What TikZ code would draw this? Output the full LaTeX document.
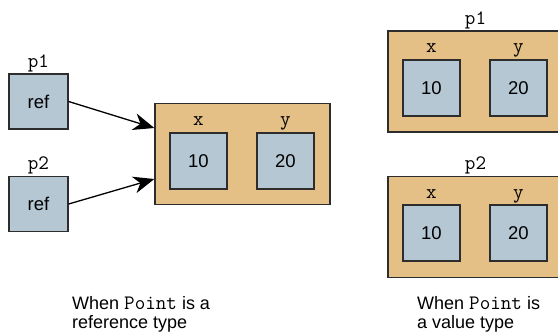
\documentclass[tikz,border=0pt]{standalone}
\usepackage{fontspec}
\setmainfont{Liberation Sans}
\setmonofont{Latin Modern Mono}
\usetikzlibrary{arrows.meta}
\definecolor{tan}{RGB}{229,192,134}
\definecolor{bluegray}{RGB}{181,199,211}
\definecolor{edge}{RGB}{45,45,45}
\newcommand{\monotext}[1]{{\fontsize{20.5}{21}\selectfont\ttfamily #1}}
\tikzset{
  outerbox/.style={draw=edge, line width=1.3pt, fill=tan, minimum width=175pt, minimum height=101pt, inner sep=0pt},
  valbox/.style={draw=edge, line width=1.3pt, fill=bluegray, minimum width=57pt, minimum height=56pt, inner sep=0pt, font=\fontsize{18.5}{21}\selectfont},
  refbox/.style={draw=edge, line width=1.3pt, fill=bluegray, minimum width=59pt, minimum height=55pt, inner sep=0pt, font=\fontsize{18.5}{21}\selectfont},
  lbl/.style={anchor=base, inner sep=0pt, font=\ttfamily\fontsize{20.5}{22}\selectfont},
  caption/.style={anchor=base west, inner sep=0pt, font=\fontsize{18}{21}\selectfont},
  ptr/.style={draw=black, line width=1.3pt, -{Stealth[length=21pt,width=17pt,inset=6.5pt]}},
}
\begin{document}
\begin{tikzpicture}[x=1pt,y=-1pt]
\useasboundingbox (0,0) rectangle (558,333);
% left: reference type
\node[refbox] (ref1) at (38.5,101.5) {ref};
\node[refbox] (ref2) at (38.5,204) {ref};
\node[lbl] (lp1) at (38.5,67) {p1};
\node[lbl] (lp2) at (38.5,169) {p2};
\node[outerbox] (objL) at (242.5,154) {};
\node[valbox] (lx) at (198.5,161) {10};
\node[valbox] (ly) at (285.5,161) {20};
\node[lbl] (lxl) at (198.5,125) {x};
\node[lbl] (lyl) at (285.5,125) {y};
\draw[ptr] (ref1.east) -- ([yshift=26pt]objL.west);
\draw[ptr] (ref2.east) -- ([yshift=-25pt]objL.west);
% right: value type
\node[outerbox] (objR1) at (475.5,81.5) {};
\node[lbl] (rp1) at (475.5,24) {p1};
\node[valbox] (r1x) at (431.5,88) {10};
\node[valbox] (r1y) at (518.5,88) {20};
\node[lbl] (r1xl) at (431.5,52) {x};
\node[lbl] (r1yl) at (518.5,52) {y};
\node[outerbox] (objR2) at (475.5,227) {};
\node[lbl] (rp2) at (475.5,169) {p2};
\node[valbox] (r2x) at (431.5,233) {10};
\node[valbox] (r2y) at (518.5,233) {20};
\node[lbl] (r2xl) at (431.5,198) {x};
\node[lbl] (r2yl) at (518.5,198) {y};
% captions
\node[caption] (c1a) at (72,309) {When \monotext{Point} is a};
\node[caption] (c1b) at (72,328) {reference type};
\node[caption] (c2a) at (417,309) {When \monotext{Point} is};
\node[caption] (c2b) at (417,328) {a value type};
\end{tikzpicture}
\end{document}
